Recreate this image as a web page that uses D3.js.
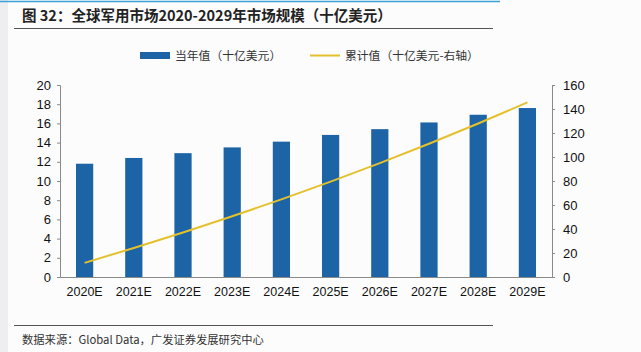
<!DOCTYPE html>
<html>
<head>
<meta charset="utf-8">
<script src="https://cdn.jsdelivr.net/npm/d3@7"></script>
<style>
  body { margin: 0; background: #fcfcfd; }
  svg { display: block; font-family: "Liberation Sans", Arial, sans-serif; }
</style>
</head>
<body>
<div id="chart"></div>
<script>
var years = ["2020E","2021E","2022E","2023E","2024E","2025E","2026E","2027E","2028E","2029E"];
var annual = [11.8, 12.4, 12.9, 13.5, 14.1, 14.8, 15.4, 16.1, 16.9, 17.6];
var cumulative = [11.8, 24.2, 37.1, 50.6, 64.7, 79.5, 94.9, 111.0, 127.9, 145.5];
var leftTicks = [0,2,4,6,8,10,12,14,16,18,20];
var rightTicks = [0,20,40,60,80,100,120,140,160];

var W = 641, H = 352;
var margin = {top: 85, right: 89, bottom: 75, left: 60},
    width = W - margin.left - margin.right,
    height = H - margin.top - margin.bottom;

var svg = d3.select("#chart").append("svg")
    .attr("width", W).attr("height", H);

// faint grey strip on the left edge
svg.append("rect").attr("x", 0).attr("y", 0).attr("width", 8).attr("height", H).attr("fill", "#eeeef0");

// header decoration
svg.append("line").attr("x1", 0).attr("x2", 500).attr("y1", 1.5).attr("y2", 1.5)
    .attr("stroke", "#3aa0d8").attr("stroke-width", 1.5);
svg.append("text").attr("x", 22).attr("y", 21)
    .attr("font-family", "'Noto Sans CJK SC', sans-serif")
    .attr("font-weight", "bold").attr("font-size", 14.5).attr("fill", "#222")
    .text("图 32：全球军用市场2020-2029年市场规模（十亿美元）");
svg.append("line").attr("x1", 14).attr("x2", 493).attr("y1", 28.5).attr("y2", 28.5)
    .attr("stroke", "#555").attr("stroke-width", 1);

// footer
svg.append("line").attr("x1", 14).attr("x2", 493).attr("y1", 325.5).attr("y2", 325.5)
    .attr("stroke", "#555").attr("stroke-width", 1);
svg.append("text").attr("x", 22).attr("y", 344)
    .attr("font-family", "'Noto Sans CJK SC', sans-serif")
    .attr("font-size", 11.3).attr("fill", "#333")
    .text("数据来源：Global Data，广发证券发展研究中心");

var g = svg.append("g").attr("transform", "translate(" + margin.left + "," + margin.top + ")");

var x = d3.scaleBand().domain(years).range([0, width]).paddingInner(0.65).paddingOuter(0.325);
var y = d3.scaleLinear().domain([0, 20]).range([height, 0]);
var y2 = d3.scaleLinear().domain([0, 160]).range([height, 0]);

// bars
g.selectAll(".bar").data(years).enter().append("rect")
    .attr("class", "bar")
    .attr("x", function(d) { return x(d); })
    .attr("y", function(d, i) { return y(annual[i]); })
    .attr("width", x.bandwidth())
    .attr("height", function(d, i) { return height - y(annual[i]); })
    .attr("fill", "#1c64a6");

// cumulative line
var line = d3.line()
    .x(function(d, i) { return x(years[i]) + x.bandwidth() / 2; })
    .y(function(d) { return y2(d); });
g.append("path").datum(cumulative)
    .attr("d", line)
    .attr("fill", "none").attr("stroke", "#e4c12c").attr("stroke-width", 2);

// axes
var axisColor = "#8a8a8a";
var leftAxis = g.append("g").call(d3.axisLeft(y).tickValues(leftTicks).tickSize(3).tickPadding(6));
var rightAxis = g.append("g").attr("transform", "translate(" + width + ",0)")
    .call(d3.axisRight(y2).tickValues(rightTicks).tickSize(3).tickPadding(8));
var bottomAxis = g.append("g").attr("transform", "translate(0," + height + ")")
    .call(d3.axisBottom(x).tickSize(0).tickPadding(10));

[leftAxis, rightAxis, bottomAxis].forEach(function(ax) {
  ax.select(".domain").attr("stroke", axisColor);
  ax.selectAll(".tick line").attr("stroke", axisColor);
  ax.selectAll("text").attr("font-size", 13).attr("fill", "#111")
    .attr("font-family", "'Liberation Sans', Arial, sans-serif");
});
bottomAxis.selectAll("text").attr("font-size", 12.5);

// legend
var lg = svg.append("g").attr("font-family", "'Noto Sans CJK SC', sans-serif").attr("font-size", 11.8).attr("fill", "#333");
lg.append("rect").attr("x", 140).attr("y", 52).attr("width", 30).attr("height", 7).attr("fill", "#1c64a6");
lg.append("text").attr("x", 175).attr("y", 60).text("当年值（十亿美元）");
lg.append("line").attr("x1", 310).attr("x2", 340).attr("y1", 55.5).attr("y2", 55.5)
    .attr("stroke", "#e4c12c").attr("stroke-width", 2);
lg.append("text").attr("x", 345).attr("y", 60).text("累计值（十亿美元-右轴）");
</script>
</body>
</html>
